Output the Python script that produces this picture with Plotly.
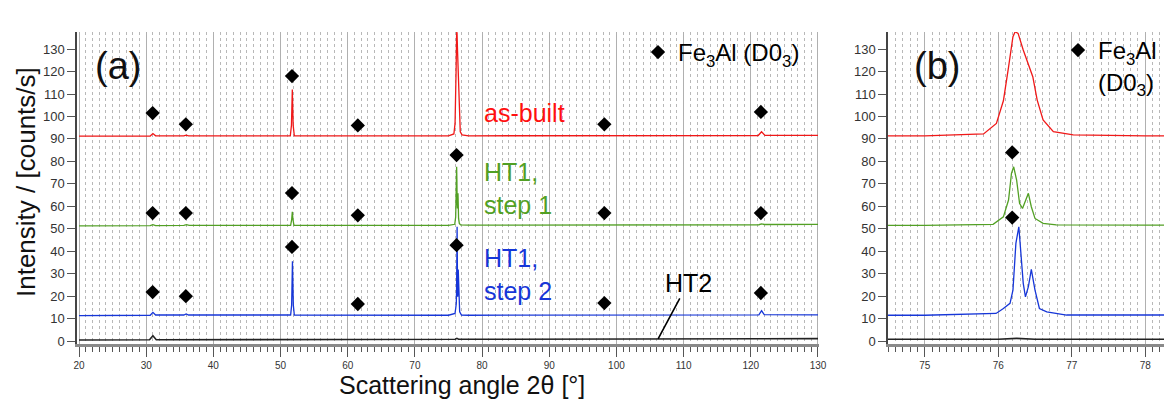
import plotly.graph_objects as go

# ---------------- data ----------------
# as-built (red)
x_red = [20, 30.6, 31.0, 31.4, 35.6, 35.95, 36.3, 51.45, 51.62, 51.75, 51.88, 52.05,
         75.0, 75.8, 75.975, 76.07, 76.14, 76.2, 76.23, 76.27, 76.34, 76.41, 76.47,
         76.53, 76.61, 76.75, 77.02, 78.0, 121.1, 121.6, 122.1, 130]
y_red = [91.2, 91.3, 92.4, 91.4, 91.4, 91.7, 91.4, 91.4, 96, 112, 96, 91.4,
         91.4, 92.2, 96.9, 107, 122, 135.5, 137.7, 137, 129.6, 123.6, 117.7,
         107.3, 98.4, 93.2, 91.8, 91.4, 91.5, 93.2, 91.6, 91.6]

# HT1, step 1 (green)
x_grn = [20, 30.6, 31.0, 31.4, 35.6, 36.0, 36.4, 51.5, 51.65, 51.75, 51.85, 52.0,
         75.0, 75.93, 76.07, 76.14, 76.18, 76.21, 76.25, 76.29, 76.33, 76.37, 76.41,
         76.45, 76.5, 76.61, 76.79, 78.0, 121.2, 121.6, 122.0, 130]
y_grn = [51.3, 51.4, 51.8, 51.4, 51.5, 51.8, 51.5, 51.5, 54, 57.6, 54, 51.5,
         51.5, 52, 55.3, 62.8, 74.7, 77.6, 71.7, 61.3, 59, 62.8, 65.8,
         59.8, 54.6, 52.4, 51.7, 51.6, 51.8, 52.2, 51.9, 52.0]

# HT1, step 2 (blue)
x_blu = [20, 30.6, 31.0, 31.4, 35.6, 35.95, 36.3, 51.5, 51.65, 51.77, 51.9, 52.05,
         75.0, 75.74, 75.97, 76.07, 76.16, 76.2, 76.24, 76.28, 76.3, 76.34, 76.37,
         76.41, 76.45, 76.5, 76.56, 76.66, 76.93, 78.0, 121.2, 121.6, 122.0, 130]
y_blu = [11.3, 11.5, 12.8, 11.6, 11.6, 12.1, 11.6, 11.6, 16, 35.5, 16, 11.6,
         11.5, 11.9, 12.3, 14.5, 16.8, 22.7, 43.5, 50.9, 42, 25.7, 19.7,
         24.2, 31.9, 22.7, 14.5, 13, 11.6, 11.5, 11.7, 13.5, 11.8, 11.7]

# HT2 (black)
x_blk = [20, 30.5, 31.0, 31.5, 76.0, 76.25, 76.5, 130]
y_blk = [0.5, 0.6, 2.4, 0.6, 0.8, 1.2, 0.8, 1.1]

# Fe3Al (D03) reflection markers, panel (a)
peak_x = [30.96, 35.9, 51.7, 61.5, 76.2, 98.2, 121.5]
mark_red = [101.5, 96.5, 118, 96, 143.2, 96.5, 102]
mark_grn = [57, 57, 65.9, 56, 82.8, 57, 57]
mark_blu = [21.8, 20, 41.9, 16.5, 42.7, 16.9, 21.4]

# markers, panel (b)
b_mark_x = [76.18, 76.19, 76.19]
b_mark_y = [143.2, 84, 55]

y_ticks = list(range(0, 131, 10))

# ---------------- styling ----------------
FONT = "Liberation Sans, Arial, sans-serif"
C_RED = "#f01818"
C_GRN = "#52a024"
C_BLU = "#1636d8"
C_BLK = "#222222"

# the page body has an 8 px margin: size the figure so it ends at the window edge
OFF = 8
W, H = 1172 - OFF, 400 - OFF
px_x = lambda p: (p - OFF) / W
px_y = lambda p: 1 - (p - OFF) / H

fig = go.Figure()

series = [(x_blk, y_blk, C_BLK, 1.6, "HT2"),
          (x_blu, y_blu, C_BLU, 1.3, "HT1, step 2"),
          (x_grn, y_grn, C_GRN, 1.3, "HT1, step 1"),
          (x_red, y_red, C_RED, 1.3, "as-built")]

for xa, ya in (("x", "y"), ("x2", "y2")):
    for xs, ys, c, w, nm in series:
        fig.add_trace(go.Scatter(x=xs, y=ys, mode="lines", name=nm,
                                 line=dict(color=c, width=w),
                                 xaxis=xa, yaxis=ya, showlegend=False))

# markers (a)
fig.add_trace(go.Scatter(x=peak_x * 3, y=mark_red + mark_grn + mark_blu,
                         mode="markers", xaxis="x", yaxis="y",
                         name="Fe<sub>3</sub>Al (D0<sub>3</sub>)",
                         marker=dict(symbol="diamond", size=11, color="black"),
                         cliponaxis=False, legend="legend"))
# markers (b)
fig.add_trace(go.Scatter(x=b_mark_x, y=b_mark_y,
                         mode="markers", xaxis="x2", yaxis="y2",
                         name="Fe<sub>3</sub>Al<br>(D0<sub>3</sub>)",
                         marker=dict(symbol="diamond", size=11, color="black"),
                         cliponaxis=False, legend="legend2"))

yrange = [-1.3, 137.6]
ydom = [px_y(344), px_y(32)]

xcommon = dict(showline=True, linecolor="#8a8a8a", linewidth=3,
               ticks="outside", ticklen=10, tickwidth=1.2, tickcolor="#555",
               showgrid=True, gridcolor="#b0b0b0", gridwidth=1,
               tickfont=dict(size=10, color="#333", family=FONT),
               zeroline=False, mirror=False, automargin=False)
ycommon = dict(range=yrange, domain=ydom, tickvals=y_ticks,
               showline=True, linecolor="#444", linewidth=1.5,
               ticks="outside", ticklen=8, tickwidth=1.2, tickcolor="#555",
               showgrid=False, zeroline=False, automargin=False,
               tickfont=dict(size=13, color="#333", family=FONT))

fig.update_layout(
    width=W, height=H,
    margin=dict(l=0, r=0, t=0, b=0, pad=0, autoexpand=False),
    paper_bgcolor="white", plot_bgcolor="white",
    font=dict(family=FONT, color="black"),
    xaxis=dict(domain=[px_x(77), px_x(819)], range=[19.7, 130.15],
               tick0=20, dtick=10, anchor="y",
               minor=dict(dtick=1, ticks="outside", ticklen=5, tickcolor="#555",
                          showgrid=True, gridcolor="#b8b8b8", griddash="dot", gridwidth=1),
               **xcommon),
    xaxis2=dict(domain=[px_x(888), 1.0], range=[74.5, 78.364],
                tick0=75, dtick=1, anchor="y2",
                minor=dict(dtick=0.1, ticks="outside", ticklen=5, tickcolor="#555",
                           showgrid=True, gridcolor="#b8b8b8", griddash="dot", gridwidth=1),
                **xcommon),
    yaxis=dict(anchor="x", **ycommon),
    yaxis2=dict(anchor="x2", **ycommon),
    legend=dict(x=px_x(638), y=px_y(30), xanchor="left", yanchor="top",
                font=dict(size=24, family=FONT, color="black"),
                bgcolor="rgba(0,0,0,0)", borderwidth=0, itemwidth=30),
    legend2=dict(x=px_x(1058), y=px_y(28), xanchor="left", yanchor="top",
                 font=dict(size=24, family=FONT, color="black"), valign="top",
                 bgcolor="rgba(0,0,0,0)", borderwidth=0, itemwidth=30),
    showlegend=True,
)

ann = []
# axis titles
ann.append(dict(text="Intensity / [counts/s]", x=px_x(26), y=px_y(182), xref="paper", yref="paper",
                textangle=-90, showarrow=False, font=dict(size=26, color="#111"),
                xanchor="center", yanchor="middle"))
ann.append(dict(text="Scattering angle 2θ [°]", x=px_x(462), y=px_y(385), xref="paper", yref="paper",
                showarrow=False, font=dict(size=25, color="#111"),
                xanchor="center", yanchor="middle"))
# panel labels
ann.append(dict(text="(a)", x=px_x(118), y=px_y(66), xref="paper", yref="paper",
                showarrow=False, font=dict(size=38, color="#111"),
                xanchor="center", yanchor="middle"))
ann.append(dict(text="(b)", x=px_x(937), y=px_y(66), xref="paper", yref="paper",
                showarrow=False, font=dict(size=38, color="#111"),
                xanchor="center", yanchor="middle"))
# series labels
ann.append(dict(text="as-built", x=80.0, y=101.5, xref="x", yref="y", showarrow=False,
                xanchor="left", yanchor="middle", align="left",
                font=dict(size=25, color="#ff1010")))
ann.append(dict(text="HT1,<br>step 1", x=80.0, y=68.0, xref="x", yref="y", showarrow=False,
                xanchor="left", yanchor="middle", align="left",
                font=dict(size=25, color=C_GRN)))
ann.append(dict(text="HT1,<br>step 2", x=80.0, y=29.8, xref="x", yref="y", showarrow=False,
                xanchor="left", yanchor="middle", align="left",
                font=dict(size=25, color=C_BLU)))
ann.append(dict(text="HT2", x=106.2, y=1.0, xref="x", yref="y", showarrow=True,
                ax=30, ay=-56, arrowhead=0, arrowwidth=1.6, arrowcolor="black",
                standoff=0, font=dict(size=25, color="black")))
fig.update_layout(annotations=ann)

fig.write_html("out.html", config={"displayModeBar": False})
